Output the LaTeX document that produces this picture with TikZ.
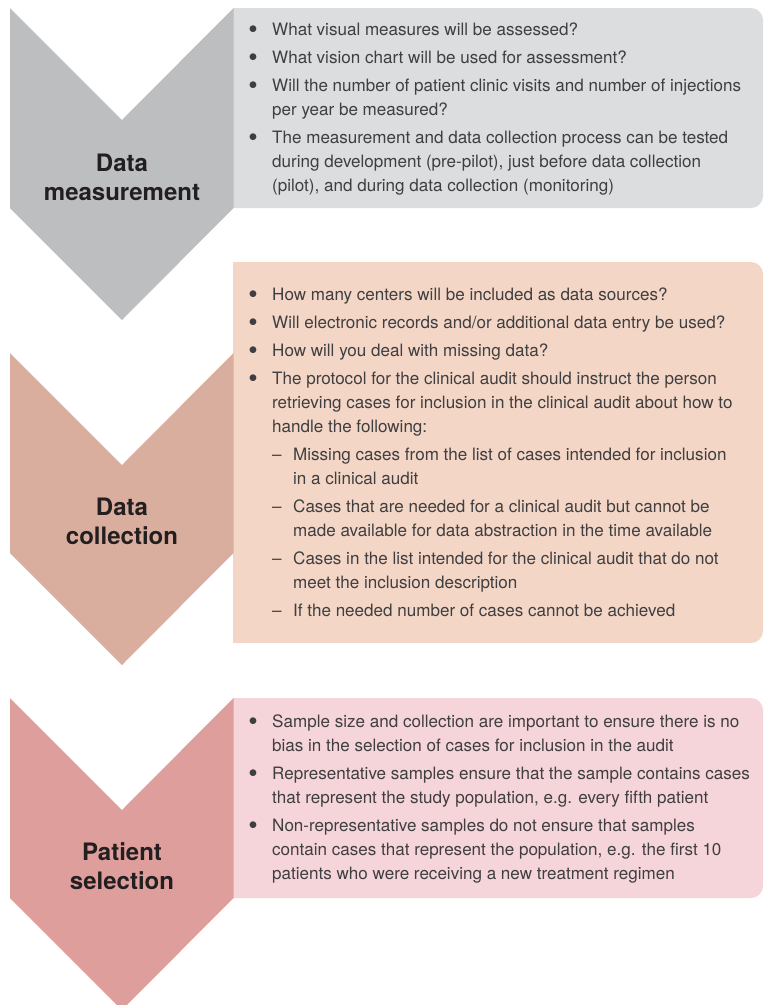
\documentclass[tikz,border=0pt]{standalone}
\usepackage{fontspec}
\setmainfont{TeX Gyre Heros}
\definecolor{chevA}{HTML}{BCBEC0}
\definecolor{boxA}{HTML}{DCDDDE}
\definecolor{chevB}{HTML}{DAAE9F}
\definecolor{boxB}{HTML}{F3D6C6}
\definecolor{chevC}{HTML}{DE9E9C}
\definecolor{boxC}{HTML}{F6D5DA}
\definecolor{bodytxt}{HTML}{3F3E40}
\definecolor{labtxt}{HTML}{231F20}
\newcommand\bigbul{\makebox[6pt][c]{\raisebox{-3.2pt}{\fontsize{27}{24}\selectfont\textbullet}}}
\newcommand\fbul[1]{\noindent\hangindent=22pt\hangafter=1\makebox[22pt][l]{\bigbul}#1\par}
\newcommand\bul[1]{\vspace{4pt}\fbul{#1}}
\newcommand\dsh[1]{\vspace{4pt}\noindent\hangindent=43pt\hangafter=1\hspace*{22pt}\makebox[21pt][l]{\textendash}#1\par}
\newcommand\chevpath[1]{(10,#1) -- (122,#1+112) -- (233.5,#1) -- (233.5,#1+200) -- (122,#1+312) -- (10,#1+200) -- cycle}
\tikzset{
  bodynode/.style={anchor=base west, inner sep=0pt, text=bodytxt},
  labnode/.style={anchor=base, inner sep=0pt, text=labtxt, font=\bfseries\fontsize{24}{29}\selectfont},
}
\newcommand\bodybox[1]{\parbox[t]{505pt}{\fontsize{17.05}{24}\selectfont\raggedright\parskip=0pt #1}}
\newcommand\labtab[2]{\setlength{\tabcolsep}{0pt}\begin{tabular}[t]{c}#1\\#2\end{tabular}}
\begin{document}
\begin{tikzpicture}[x=1pt,y=-1pt]
\useasboundingbox (0,0) rectangle (764,1005);
% boxes
\fill[boxA] (233,8) -- (500,8) [rounded corners=12pt] -- (763,8) -- (763,208) -- (500,208) [sharp corners] -- (233,208) -- cycle;
\fill[boxB] (233,262) -- (500,262) [rounded corners=12pt] -- (763,262) -- (763,643) -- (500,643) [sharp corners] -- (233,643) -- cycle;
\fill[boxC] (233,698) -- (500,698) [rounded corners=12pt] -- (763,698) -- (763,898) -- (500,898) [sharp corners] -- (233,898) -- cycle;
% chevrons
\fill[chevA] \chevpath{8};
\fill[chevB] \chevpath{353};
\fill[chevC] \chevpath{698};
% labels
\node[labnode] (labA) at (122,171) {\labtab{Data}{measurement}};
\node[labnode] (labB) at (122,515) {\labtab{Data}{collection}};
\node[labnode] (labC) at (122,860) {\labtab{Patient}{selection}};
% texts
\node[bodynode] (txtA) at (250,35) {\bodybox{%
\fbul{What visual measures will be assessed?}
\bul{What vision chart will be used for assessment?}
\bul{Will the number of patient clinic visits and number of injections\newline per year be measured?}
\bul{The measurement and data collection process can be tested\newline during development (pre-pilot), just before data collection\newline (pilot), and during data collection (monitoring)}
}};
\node[bodynode] (txtB) at (250,300) {\bodybox{%
\fbul{How many centers will be included as data sources?}
\bul{Will electronic records and/or additional data entry be used?}
\bul{How will you deal with missing data?}
\bul{The protocol for the clinical audit should instruct the person\newline retrieving cases for inclusion in the clinical audit about how to\newline handle the following:}
\dsh{Missing cases from the list of cases intended for inclusion\newline in a clinical audit}
\dsh{Cases that are needed for a clinical audit but cannot be\newline made available for data abstraction in the time available}
\dsh{Cases in the list intended for the clinical audit that do not\newline meet the inclusion description}
\dsh{If the needed number of cases cannot be achieved}
}};
\node[bodynode] (txtC) at (250,727) {\bodybox{%
\fbul{Sample size and collection are important to ensure there is no\newline bias in the selection of cases for inclusion in the audit}
\bul{Representative samples ensure that the sample contains cases\newline that represent the study population, e.g. every fifth patient}
\bul{Non-representative samples do not ensure that samples\newline contain cases that represent the population, e.g. the first 10\newline patients who were receiving a new treatment regimen}
}};
\end{tikzpicture}
\end{document}
